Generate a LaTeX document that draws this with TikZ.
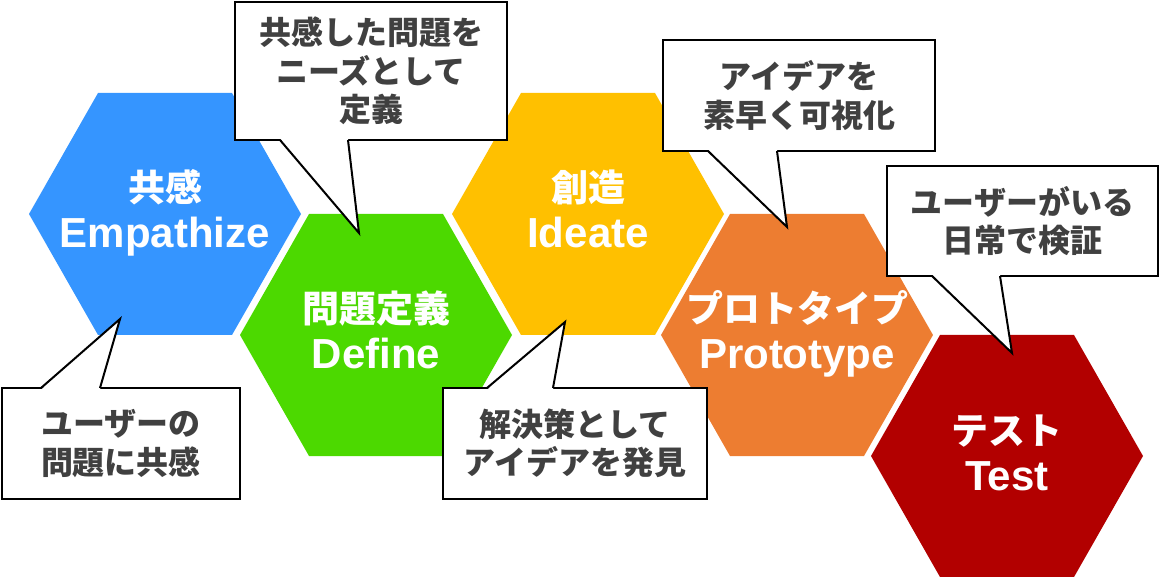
\documentclass[tikz,border=0pt]{standalone}
\usepackage{fontspec}
\setmainfont{Liberation Sans}
\newfontfamily\jpf{Noto Sans CJK JP}
\definecolor{hexblue}{RGB}{53,149,255}
\definecolor{hexgreen}{RGB}{76,217,0}
\definecolor{hexyellow}{RGB}{255,192,0}
\definecolor{hexorange}{RGB}{237,125,49}
\definecolor{hexred}{RGB}{178,0,0}
\definecolor{txtgray}{RGB}{64,64,64}
\newcommand\hexshape[3]{\fill[#3] (#1-136,#2) -- (#1-67,#2-121) -- (#1+67,#2-121) -- (#1+136,#2) -- (#1+67,#2+121) -- (#1-67,#2+121) -- cycle;}
\begin{document}
\begin{tikzpicture}[x=1pt,y=-1pt,
  hexjp/.style={anchor=base, text=white, inner sep=0, font=\jpf\bfseries\fontsize{37}{40}\selectfont},
  hexen/.style={anchor=base, text=white, inner sep=0, font=\bfseries\fontsize{42}{46}\selectfont},
  callbox/.style={draw=black, line width=2.8pt, fill=white, inner sep=0, align=center, text=txtgray, font=\jpf\bfseries\fontsize{32}{38.5}\selectfont},
  ptrline/.style={draw=black, line width=2pt, line join=miter}]
\useasboundingbox (0,0) rectangle (1160,577);
% hexagons
\hexshape{165}{214}{hexblue}
\hexshape{376}{335}{hexgreen}
\hexshape{588}{214}{hexyellow}
\hexshape{797}{335}{hexorange}
\hexshape{1007}{456}{hexred}
% hexagon labels
\node[hexjp] (empjp) at (165,202) {共感};
\node[hexen] (empen) at (165,248) {Empathize};
\node[hexjp] (defjp) at (376,323) {問題定義};
\node[hexen] (defen) at (376,369) {Define};
\node[hexjp] (idejp) at (588,202) {創造};
\node[hexen] (ideen) at (588,248) {Ideate};
\node[hexjp] (projp) at (797,323) {プロトタイプ};
\node[hexen] (proen) at (797,369) {Prototype};
\node[hexjp] (tesjp) at (1007,444) {テスト};
\node[hexen] (tesen) at (1007,490) {Test};
% callout A (Define)
\node[callbox, minimum width=272, minimum height=138] (cA) at (371,71) {共感した問題を\\ニーズとして\\定義};
\coordinate (pA1) at (280,140);
\coordinate (pA2) at (348,140);
\coordinate (tA) at (359,233);
\fill[white] ([yshift=1.6pt]pA1) -- (tA) -- ([yshift=1.6pt]pA2) -- cycle;
\draw[ptrline] (pA1) -- (tA) -- (pA2);
% callout B (Empathize)
\node[callbox, minimum width=238, minimum height=111] (cB) at (121,443.5) {ユーザーの\\問題に共感};
\coordinate (pB1) at (41,388);
\coordinate (pB2) at (100,388);
\coordinate (tB) at (120,319);
\fill[white] ([yshift=-1.6pt]pB1) -- (tB) -- ([yshift=-1.6pt]pB2) -- cycle;
\draw[ptrline] (pB1) -- (tB) -- (pB2);
% callout C (Ideate)
\node[callbox, minimum width=264, minimum height=111] (cC) at (575,443.5) {解決策として\\アイデアを発見};
\coordinate (pC1) at (487,388);
\coordinate (pC2) at (553,388);
\coordinate (tC) at (565,322);
\fill[white] ([yshift=-1.6pt]pC1) -- (tC) -- ([yshift=-1.6pt]pC2) -- cycle;
\draw[ptrline] (pC1) -- (tC) -- (pC2);
% callout D (Prototype)
\node[callbox, minimum width=272, minimum height=111] (cD) at (799,95.5) {アイデアを\\素早く可視化};
\coordinate (pD1) at (708,151);
\coordinate (pD2) at (777,151);
\coordinate (tD) at (787,227);
\fill[white] ([yshift=1.6pt]pD1) -- (tD) -- ([yshift=1.6pt]pD2) -- cycle;
\draw[ptrline] (pD1) -- (tD) -- (pD2);
% callout E (Test)
\node[callbox, minimum width=271, minimum height=110] (cE) at (1022.5,221) {ユーザーがいる\\日常で検証};
\coordinate (pE1) at (932,276);
\coordinate (pE2) at (1000,276);
\coordinate (tE) at (1012,353);
\fill[white] ([yshift=1.6pt]pE1) -- (tE) -- ([yshift=1.6pt]pE2) -- cycle;
\draw[ptrline] (pE1) -- (tE) -- (pE2);
\end{tikzpicture}
\end{document}
